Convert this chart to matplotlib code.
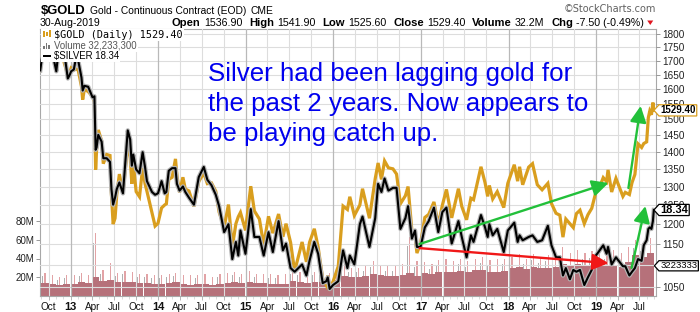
import matplotlib
matplotlib.use("Agg")
import matplotlib.pyplot as plt
import matplotlib.dates as mdates
import matplotlib.transforms as mtrans
from matplotlib.path import Path
from matplotlib.patches import Rectangle, Polygon
from matplotlib.ticker import FixedLocator, NullLocator, NullFormatter
import numpy as np
import pandas as pd

W, H = 700, 312

# ---------------- data ----------------
dates = [
    "2012-08-27", "2012-09-07", "2012-09-14", "2012-09-21", "2012-10-04", "2012-10-12", "2012-10-23",
    "2012-11-02", "2012-11-09", "2012-11-23", "2012-12-05", "2012-12-20", "2012-12-28",
    "2013-01-03", "2013-01-14", "2013-01-24", "2013-02-01", "2013-02-15", "2013-02-20", "2013-02-27",
    "2013-03-15", "2013-04-02", "2013-04-10", "2013-04-15", "2013-04-19", "2013-04-26", "2013-05-10",
    "2013-05-17", "2013-05-31", "2013-06-14", "2013-06-20", "2013-06-27", "2013-07-05", "2013-07-12",
    "2013-07-23", "2013-08-07", "2013-08-27", "2013-09-06", "2013-09-13", "2013-09-19", "2013-10-01",
    "2013-10-15", "2013-10-28", "2013-11-07", "2013-11-15", "2013-12-06", "2013-12-19", "2013-12-31",
    "2014-01-15", "2014-01-28", "2014-02-04", "2014-02-14", "2014-02-28", "2014-03-14", "2014-03-20",
    "2014-03-31", "2014-04-14", "2014-04-24", "2014-05-09", "2014-05-30", "2014-06-19", "2014-07-10",
    "2014-07-25", "2014-08-11", "2014-08-29", "2014-09-12", "2014-10-03", "2014-10-21", "2014-11-06",
    "2014-11-21", "2014-12-01", "2014-12-10", "2014-12-31",
    "2015-01-22", "2015-02-06", "2015-02-27", "2015-03-17", "2015-04-06", "2015-04-24", "2015-05-18",
    "2015-06-05", "2015-06-18", "2015-07-07", "2015-07-24", "2015-08-24", "2015-09-11", "2015-09-24",
    "2015-10-14", "2015-10-30", "2015-11-18", "2015-12-03", "2015-12-09", "2015-12-17", "2015-12-31",
    "2016-01-22", "2016-02-11", "2016-02-29", "2016-03-10", "2016-03-29", "2016-04-21", "2016-05-02",
    "2016-05-31", "2016-06-24", "2016-07-06", "2016-07-20", "2016-08-02", "2016-08-18", "2016-09-06",
    "2016-09-21", "2016-10-07", "2016-10-28", "2016-11-08", "2016-11-24", "2016-12-07", "2016-12-15",
    "2016-12-30",
    "2017-01-17", "2017-02-02", "2017-02-24", "2017-03-14", "2017-03-31", "2017-04-17", "2017-05-09",
    "2017-06-06", "2017-06-20", "2017-07-10", "2017-07-28", "2017-08-08", "2017-09-08", "2017-09-25",
    "2017-10-06", "2017-10-13", "2017-10-27", "2017-11-15", "2017-12-12", "2017-12-29",
    "2018-01-25", "2018-02-08", "2018-02-16", "2018-03-01", "2018-03-26", "2018-04-11", "2018-05-01",
    "2018-05-21", "2018-06-14", "2018-06-29", "2018-07-18", "2018-08-03", "2018-08-16", "2018-08-28",
    "2018-09-14", "2018-09-28", "2018-10-11", "2018-10-26", "2018-11-13", "2018-11-28", "2018-12-14",
    "2018-12-31",
    "2019-01-11", "2019-01-31", "2019-02-14", "2019-02-20", "2019-03-07", "2019-03-25", "2019-04-23",
    "2019-05-03", "2019-05-20", "2019-05-31", "2019-06-12", "2019-06-25", "2019-07-10", "2019-07-19",
    "2019-07-31", "2019-08-07", "2019-08-13", "2019-08-20", "2019-08-26", "2019-08-30",
]

gold_close = [
    1665, 1740, 1772, 1773, 1795, 1759, 1708, 1676, 1730, 1752, 1693, 1648, 1657,
    1674, 1667, 1670, 1668, 1609, 1565, 1600, 1592, 1575, 1556, 1348, 1405, 1467, 1433,
    1365, 1392, 1389, 1277, 1200, 1215, 1277, 1335, 1282, 1420, 1387, 1308, 1366, 1286,
    1272, 1353, 1308, 1287, 1230, 1195, 1202,
    1242, 1250, 1253, 1320, 1326, 1379, 1331, 1284, 1326, 1293, 1288, 1246, 1314, 1338,
    1308, 1310, 1287, 1231, 1192, 1251, 1143, 1201, 1219, 1230, 1184,
    1301, 1234, 1213, 1148, 1220, 1177, 1226, 1168, 1201, 1154, 1085, 1155, 1107, 1154,
    1188, 1142, 1068, 1053, 1075, 1049, 1061,
    1097, 1247, 1238, 1272, 1222, 1250, 1294, 1215, 1322, 1367, 1320, 1373, 1353, 1350,
    1335, 1253, 1275, 1300, 1183, 1170, 1128, 1151,
    1217, 1225, 1258, 1198, 1249, 1292, 1216, 1294, 1246, 1211, 1268, 1264, 1356, 1311,
    1273, 1303, 1266, 1286, 1243, 1309,
    1362, 1315, 1356, 1305, 1355, 1365, 1305, 1291, 1309, 1254, 1228, 1223, 1167, 1213,
    1201, 1191, 1227, 1236, 1201, 1224, 1241, 1284,
    1290, 1325, 1314, 1347, 1285, 1323, 1273, 1284, 1278, 1311, 1334, 1424, 1413, 1425,
    1430, 1506, 1527, 1515, 1555, 1529.4,
]

silver_close = [
    30.7, 33.0, 34.6, 34.6, 34.9, 33.5, 31.9, 30.6, 32.4, 34.2, 32.8, 29.8, 30.2,
    30.6, 30.8, 32.3, 31.9, 29.9, 28.5, 29.0, 28.9, 27.8, 27.9, 22.9, 23.1, 24.2, 23.6,
    22.2, 22.2, 21.9, 19.8, 18.7, 19.2, 19.8, 20.3, 19.5, 24.6, 23.8, 21.6, 22.5, 21.3,
    21.0, 22.7, 21.5, 20.4, 19.6, 19.4, 19.5,
    20.4, 19.5, 19.6, 21.2, 21.4, 21.4, 20.2, 19.7, 20.0, 19.6, 19.2, 18.7, 20.7, 21.5,
    20.5, 20.1, 19.4, 18.6, 16.9, 17.4, 15.3, 16.3, 15.5, 17.0, 15.6,
    18.4, 16.6, 16.6, 15.5, 16.9, 15.7, 17.6, 15.8, 16.2, 14.8, 14.6, 15.0, 14.4, 15.2,
    16.3, 15.6, 14.0, 14.1, 14.3, 13.7, 13.9,
    14.1, 15.8, 14.8, 15.5, 15.0, 17.4, 17.9, 16.0, 17.8, 20.2, 19.6, 20.6, 19.7, 19.9,
    19.9, 17.1, 17.8, 18.6, 16.5, 17.0, 16.0, 16.0,
    17.2, 17.6, 18.5, 16.9, 18.2, 18.5, 16.2, 17.6, 16.6, 15.4, 16.7, 16.3, 18.0, 17.2,
    16.6, 17.4, 16.7, 17.1, 15.7, 17.0,
    17.5, 16.3, 16.7, 16.4, 16.6, 16.7, 16.3, 16.4, 17.3, 16.1, 15.4, 15.4, 14.4, 14.8,
    14.2, 14.7, 14.6, 14.7, 13.9, 14.3, 14.7, 15.5,
    15.7, 16.1, 15.6, 16.0, 15.0, 15.4, 14.9, 14.9, 14.4, 14.6, 14.8, 15.3, 15.2, 16.1,
    16.4, 17.1, 17.2, 17.1, 17.6, 18.34,
]

# monthly volume (millions), Sep 2012 .. Aug 2019: typical level and spikes
vol_base = [
    14, 13, 12, 13,
    13, 15, 14, 20, 16, 17, 15, 15, 15, 14, 14, 13,
    13, 14, 15, 13, 12, 13, 13, 12, 13, 14, 15, 14,
    15, 14, 14, 13, 13, 13, 16, 15, 14, 15, 15, 14,
    17, 21, 20, 20, 21, 23, 22, 21, 21, 22, 25, 21,
    25, 24, 26, 26, 26, 27, 26, 28, 28, 26, 26, 27,
    30, 31, 29, 31, 30, 30, 31, 34, 32, 34, 32, 32,
    34, 32, 33, 31, 36, 44, 42, 46,
]
vol_peak = [
    25, 22, 20, 22,
    22, 25, 22, 67, 28, 35, 25, 27, 26, 24, 24, 22,
    22, 24, 25, 22, 22, 22, 24, 20, 24, 25, 26, 24,
    27, 24, 24, 23, 22, 24, 28, 26, 24, 26, 26, 25,
    28, 34, 30, 30, 32, 37, 32, 32, 32, 34, 63, 37,
    36, 34, 38, 39, 37, 40, 37, 40, 42, 38, 39, 40,
    42, 45, 40, 45, 42, 44, 44, 52, 46, 49, 46, 48,
    49, 46, 49, 46, 52, 60, 57, 62,
]
vol_months = pd.date_range("2012-09-01", "2019-08-01", freq="MS")

gold_ticks = [1050, 1100, 1150, 1200, 1250, 1300, 1350, 1400, 1450, 1500,
              1550, 1600, 1650, 1700, 1750, 1800]
vol_ticks = [20, 40, 60, 80]
vol_tick_labels = ["20M", "40M", "60M", "80M"]
quarter_dates = pd.date_range("2012-10-01", "2019-07-01", freq="QS")
quarter_labels = [str(d.year % 100) if d.month == 1 else d.strftime("%b") for d in quarter_dates]

last_gold, last_silver, last_volume = 1529.40, 18.34, 32.23333

# annotation arrows: (start date, start gold-scale value, end date, end value, colour)
arrows = [
    ("2016-12-26", 1150, "2019-02-22", 1310, "#22c03a"),
    ("2016-12-26", 1140, "2019-02-22", 1104, "#f01818"),
    ("2019-05-16", 1296, "2019-07-06", 1544, "#22c03a"),
    ("2019-05-29", 1093, "2019-07-26", 1247, "#22c03a"),
]

# ---------------- figure ----------------
GOLD = "#d99e1e"
fig = plt.figure(figsize=(W / 100, H / 100), dpi=100)
rect = [40 / W, (H - 296) / H, 616 / W, 267 / H]
ax_v = fig.add_axes(rect)
ax_g = fig.add_axes(rect, sharex=ax_v)
ax_s = fig.add_axes(rect, sharex=ax_v)
for a in (ax_g, ax_s):
    a.patch.set_visible(False)
    for sp in a.spines.values():
        sp.set_visible(False)

xd = mdates.date2num(pd.to_datetime(dates).to_numpy())
xm = mdates.date2num(vol_months.to_numpy())
xq = mdates.date2num(quarter_dates.to_numpy())
x0 = mdates.date2num(np.datetime64("2012-08-26"))
x1 = mdates.date2num(np.datetime64("2019-09-08"))
ax_v.set_xlim(x0, x1)

# volume
ax_v.bar(xm + 12, vol_peak, width=5, color="#e2a3a6", align="edge", linewidth=0, zorder=1)
ax_v.bar(xm + 3, [b * 0.85 for b in vol_peak], width=3, color="#b0b0b0", align="edge", linewidth=0, zorder=1)
ax_v.bar(xm, vol_base, width=30, color="#b6717a", align="edge", linewidth=0, zorder=2)
ax_v.set_ylim(0, 284.8)
ax_v.set_yticks(vol_ticks)
ax_v.set_yticklabels(vol_tick_labels)
ax_v.tick_params(axis="y", which="both", left=True, right=False, length=3, width=0.6,
                 color="#888888", labelsize=7, pad=1, labelcolor="#222222")
for sp in ax_v.spines.values():
    sp.set_color("#a8a8a8")
    sp.set_linewidth(0.8)

ax_v.set_xticks(xq)
ax_v.set_xticklabels(quarter_labels)
months_all = mdates.date2num(pd.date_range("2012-09-01", "2019-09-01", freq="MS").to_numpy())
ax_v.xaxis.set_minor_locator(FixedLocator(months_all))
ax_v.tick_params(axis="x", which="major", length=3, width=0.6, color="#aaaaaa",
                 labelsize=7.2, pad=1.5, labelcolor="#111111")
ax_v.tick_params(axis="x", which="minor", length=2, width=0.5, color="#cccccc")
for lab, d in zip(ax_v.get_xticklabels(), quarter_dates):
    lab.set_family("Liberation Sans")
    if d.month == 1:
        lab.set_fontweight("bold")
        lab.set_fontsize(8)
for lab in ax_v.get_yticklabels():
    lab.set_family("Liberation Sans")

# gold
ax_g.set_yscale("log")
ax_g.set_ylim(1029.3, 1819.3)
for v in gold_ticks:
    ax_g.axhline(v, color="#dddddd", lw=0.8, zorder=0)
for xqq, d in zip(xq, quarter_dates):
    ax_g.axvline(xqq, color="#b9b9b9" if d.month == 1 else "#dddddd", lw=0.9 if d.month == 1 else 0.8, zorder=0)
ax_g.plot(xd, gold_close, color=GOLD, lw=2.3, zorder=3, solid_joinstyle="miter")
ax_g.yaxis.tick_right()
ax_g.yaxis.set_major_locator(FixedLocator(gold_ticks))
ax_g.yaxis.set_minor_locator(NullLocator())
ax_g.yaxis.set_minor_formatter(NullFormatter())
ax_g.set_yticklabels([str(v) for v in gold_ticks])
ax_g.tick_params(axis="y", which="major", length=3, width=0.6, color="#888888",
                 labelsize=7.2, pad=1.5, labelcolor="#222222")
for lab in ax_g.get_yticklabels():
    lab.set_family("Liberation Sans")
ax_g.xaxis.set_visible(False)

# silver
ax_s.set_yscale("log")
ax_s.set_ylim(13.35, 35.77)
ax_s.plot(xd, silver_close, color="#b4b4b4", lw=3.2, zorder=3, solid_joinstyle="round")
ax_s.plot(xd, silver_close, color="black", lw=1.5, zorder=4, solid_joinstyle="round")
ax_s.yaxis.set_visible(False)
ax_s.xaxis.set_visible(False)

# arrows (in gold-scale coordinates)
for sd, sv, ed, ev, col in arrows:
    ax_s.annotate("", xy=(mdates.date2num(np.datetime64(ed)), ev),
                  xytext=(mdates.date2num(np.datetime64(sd)), sv),
                  xycoords=ax_g.transData, textcoords=ax_g.transData,
                  arrowprops=dict(arrowstyle="-|>,head_length=0.7,head_width=0.35", color=col,
                                  lw=1.7, shrinkA=0, shrinkB=0, mutation_scale=14),
                  zorder=6)


# value tags on right axis
def tag_box(x0, y0, width, height, mutation_size):
    pad = 1.2
    x0 -= pad
    y0 -= pad * 0.5
    width += 2 * pad
    height += pad
    tip = height * 0.45
    verts = [(x0 - tip, y0 + height / 2), (x0, y0), (x0 + width, y0),
             (x0 + width, y0 + height), (x0, y0 + height), (x0 - tip, y0 + height / 2)]
    return Path(verts, closed=True)


def tag(text, ytrans, yval, edge, bold, fs):
    tr = mtrans.blended_transform_factory(ax_s.transAxes, ytrans)
    ax_s.annotate(text, xy=(1.0, yval), xycoords=tr, xytext=(3.0, 0), textcoords="offset points",
                  va="center", ha="left", fontsize=fs, family="Liberation Sans",
                  fontweight="bold" if bold else "normal", color="black", annotation_clip=False,
                  bbox=dict(boxstyle=tag_box, fc="white", ec=edge, lw=0.9), zorder=10)


tag(f"{last_gold:.2f}", ax_g.transData, last_gold, GOLD, True, 7.0)
tag(f"{last_silver:.2f}", ax_s.transData, last_silver, "black", True, 8.0)
tag(f"{int(round(last_volume * 1e5))}", ax_v.transData, last_volume, "black", False, 6.8)

# ---------------- texts ----------------
renderer = fig.canvas.get_renderer()


def fx(x):
    return x / W


def fy(y):
    return 1 - y / H


def seq(x, y, parts, family="Liberation Sans"):
    for s, size, weight, color, gap in parts:
        t = fig.text(fx(x), fy(y), s, fontsize=size, fontweight=weight, color=color,
                     family=family, ha="left", va="baseline")
        x += t.get_window_extent(renderer).width + gap
    return x


seq(40.5, 14, [("$GOLD", 9.4, "bold", "black", 5),
               ("Gold - Continuous Contract (EOD)", 7.4, "normal", "black", 4),
               ("CME", 7.4, "normal", "black", 0)])
fig.text(fx(40), fy(26), "30-Aug-2019", fontsize=7.6, family="Liberation Sans", va="baseline")
endx = seq(172, 26, [("Open", 8.1, "bold", "black", 3), ("1536.90", 7.7, "normal", "black", 7),
                     ("High", 8.1, "bold", "black", 3), ("1541.90", 7.7, "normal", "black", 7),
                     ("Low", 8.1, "bold", "black", 3), ("1525.60", 7.7, "normal", "black", 7),
                     ("Close", 8.1, "bold", "black", 3), ("1529.40", 7.7, "normal", "black", 7),
                     ("Volume", 8.1, "bold", "black", 3), ("32.2M", 7.7, "normal", "black", 7),
                     ("Chg", 8.1, "bold", "black", 3), ("-7.50 (-0.49%)", 7.7, "normal", "black", 3)])
fig.add_artist(Polygon([[endx, H - 20.5], [endx + 6, H - 20.5], [endx + 3, H - 25]],
                       closed=True, transform=mtrans.IdentityTransform(), fc="#e0141e", ec="none"))
fig.text(fx(656), fy(12), "\u00a9StockCharts.com", fontsize=7, family="DejaVu Sans",
         color="#606060", ha="right", va="baseline")

# legend (white backing hides data beneath it)
leg_rows = [("$GOLD (Daily) 1529.40", 37.5, "black", "DejaVu Sans Mono", 7.3),
            ("Volume 32,233,300", 48.5, "#555555", "Liberation Sans", 6.9),
            ("$SILVER 18.34", 59, "black", "Liberation Sans", 6.9)]
for txt, yb, col, fam, fs in leg_rows:
    t = fig.text(fx(54), fy(yb), txt, fontsize=fs, family=fam, color=col,
                 va="baseline", ha="left", zorder=5)
    bb = t.get_window_extent(renderer)
    fig.add_artist(Rectangle((40.6, H - yb - 3), bb.x1 - 40.6 + 1, 11.2,
                             transform=mtrans.IdentityTransform(), fc="white", ec="none", zorder=4))
# legend icons
for i, hh in enumerate([6, 4, 7]):
    fig.add_artist(Rectangle((43 + i * 3, H - 37 + (7 - hh) / 2), 1.6, hh,
                             transform=mtrans.IdentityTransform(), fc=GOLD, ec="none", zorder=6))
for i, hh in enumerate([3, 6, 4]):
    fig.add_artist(Rectangle((43 + i * 2.6, H - 48.5), 1.8, hh,
                             transform=mtrans.IdentityTransform(), fc="#777777", ec="none", zorder=6))
fig.add_artist(Rectangle((43, H - 56.5), 8, 2, transform=mtrans.IdentityTransform(),
                         fc="black", ec="none", zorder=6))

# big blue comment
comment = ["Silver had been lagging gold for",
           "the past 2 years. Now appears to",
           "be playing catch up."]
for i, line in enumerate(comment):
    fig.text(fx(208.5), fy(81 + 30 * i), line, fontsize=18.6, family="Liberation Sans",
             color="#0000ee", va="baseline", ha="left", zorder=7)

fig.savefig("out.png", dpi=100)
